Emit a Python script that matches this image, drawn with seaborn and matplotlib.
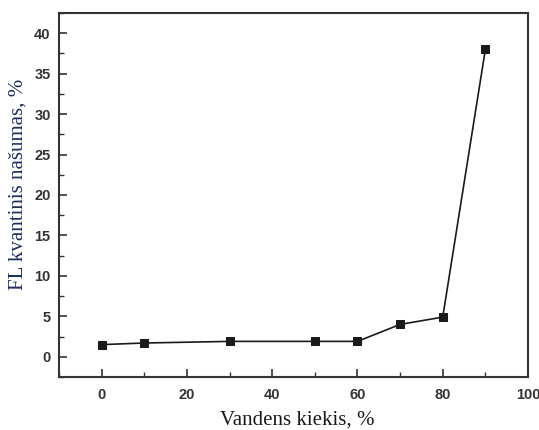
import matplotlib
matplotlib.use('Agg')
import matplotlib.pyplot as plt
import seaborn as sns
import pandas as pd
from matplotlib.ticker import MultipleLocator

# duomenys
vanduo = [0, 10, 30, 50, 60, 70, 80, 90]
nasumas = [1.5, 1.7, 1.9, 1.9, 1.9, 4.0, 4.9, 38.0]
x_ticks = [0, 20, 40, 60, 80, 100]
y_ticks = [0, 5, 10, 15, 20, 25, 30, 35, 40]

dados = pd.DataFrame({'vanduo': vanduo, 'nasumas': nasumas})

sns.set_style('ticks')
fig = plt.figure(figsize=(5.39, 4.30), dpi=100)
ax = fig.add_axes([0.1095, 0.1233, 0.8701, 0.8465])

sns.lineplot(data=dados, x='vanduo', y='nasumas', ax=ax, color='#1a1a1a',
             marker='s', markersize=6, markeredgecolor='#1a1a1a',
             linewidth=1.2)

ax.set_xlim(-10, 100)
ax.set_ylim(-2.5, 42.5)
ax.set_xticks(x_ticks)
ax.set_yticks(y_ticks)
ax.xaxis.set_minor_locator(MultipleLocator(10))
ax.yaxis.set_minor_locator(MultipleLocator(2.5))
ax.tick_params(which='major', direction='in', length=6, width=1.2,
               color='#333333', labelsize=10.5)
ax.tick_params(axis='x', which='major', pad=8)
ax.tick_params(axis='y', which='major', pad=6)
ax.tick_params(which='minor', direction='in', length=3.5, width=1.0,
               color='#333333')
for lab in ax.get_xticklabels() + ax.get_yticklabels():
    lab.set_fontweight('bold')
    lab.set_family(['Liberation Sans', 'DejaVu Sans'])
    lab.set_color('#333333')
for sp in ax.spines.values():
    sp.set_linewidth(1.5)
    sp.set_color('#333333')

ax.set_xlabel('Vandens kiekis, %', family=['Liberation Serif', 'DejaVu Serif'],
              fontsize=15, color='#1a1a1a', va='center')
ax.set_ylabel('FL kvantinis našumas, %', family=['Liberation Serif', 'DejaVu Serif'],
              fontsize=15, color='#1f2d5c', va='center')
ax.xaxis.set_label_coords(0.507, -0.118)
ax.yaxis.set_label_coords(-0.087, 0.53)

fig.savefig('out.png', dpi=100)
